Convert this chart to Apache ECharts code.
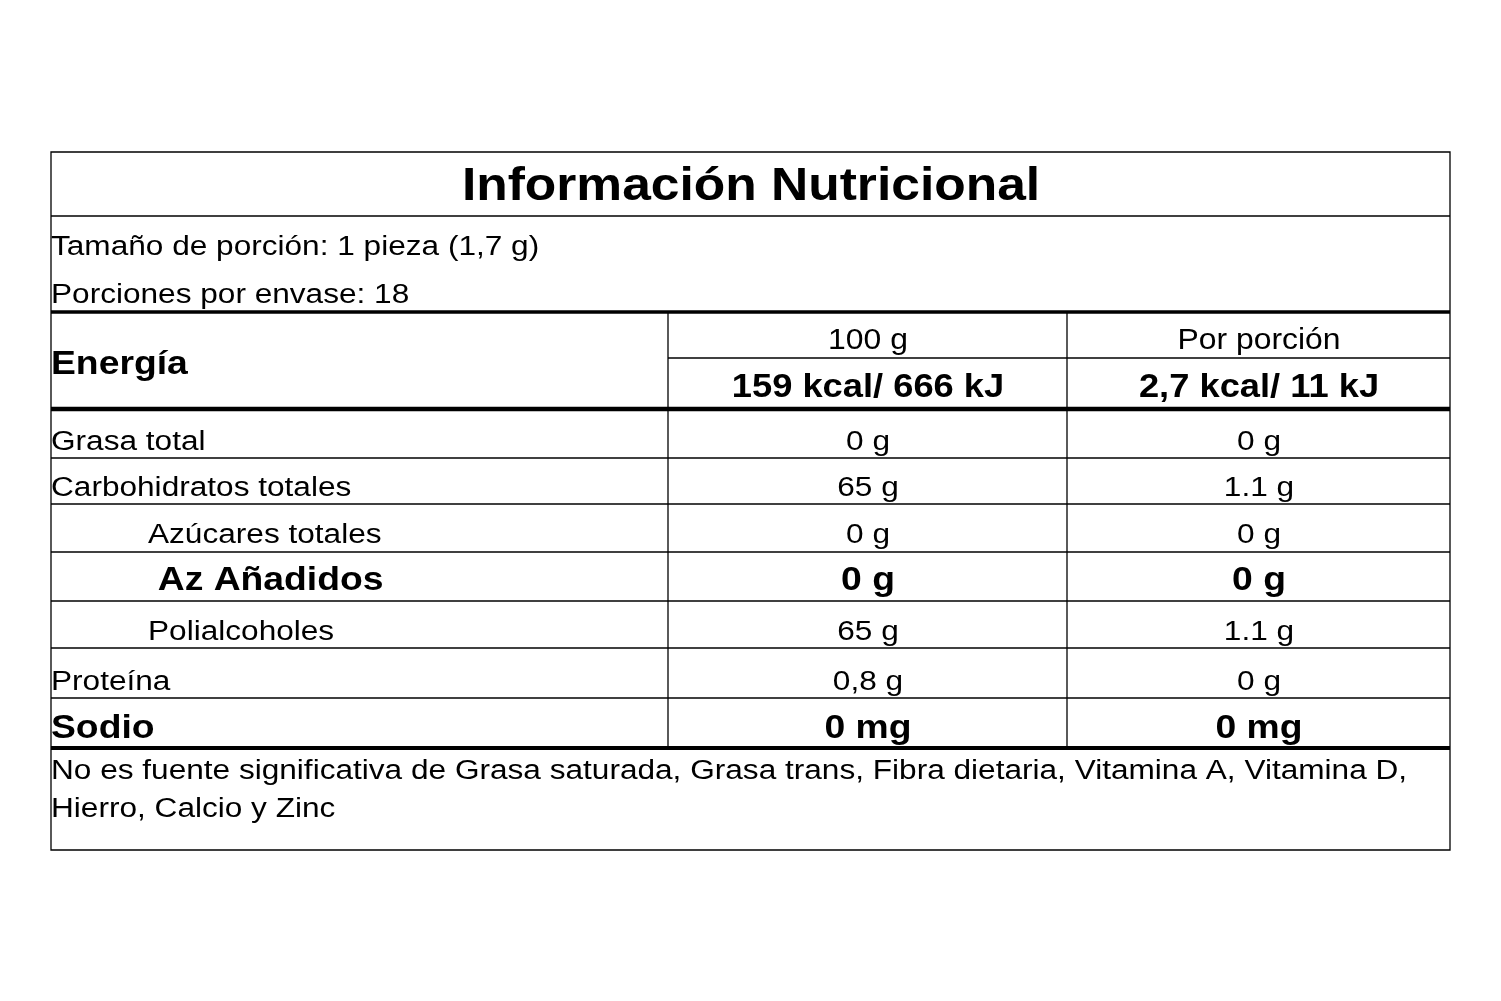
<!DOCTYPE html>
<html><head><meta charset="utf-8">
<script src="https://cdn.jsdelivr.net/npm/echarts@6/dist/echarts.min.js"></script>
<style>html,body{margin:0;padding:0;background:#fff}#c{width:1501px;height:1001px}</style>
</head><body><div id="c"></div>
<script>
const title = "Información Nutricional";
const servingLines = ["Tamaño de porción: 1 pieza (1,7 g)", "Porciones por envase: 18"];
const columnHeaders = ["100 g", "Por porción"];
const energyLabel = "Energía";
const energyValues = ["159 kcal/ 666 kJ", "2,7 kcal/ 11 kJ"];
const nutrientNames = ["Grasa total","Carbohidratos totales","Azúcares totales","Az Añadidos","Polialcoholes","Proteína","Sodio"];
const nutrientIndent = [0,0,1,1.1,1,0,0];
const nutrientBold = [false,false,false,true,false,false,true];
const per100 = ["0 g","65 g","0 g","0 g","65 g","0,8 g","0 mg"];
const perPortion = ["0 g","1.1 g","0 g","0 g","1.1 g","0 g","0 mg"];
const footerLines = ["No es fuente significativa de Grasa saturada, Grasa trans, Fibra dietaria, Vitamina A, Vitamina D,","Hierro, Calcio y Zinc"];

const L=51,R=1450,T=152,B=850,C1=668,C2=1067;
const font='"Liberation Sans", Arial, sans-serif';
const g=[];
function line(x1,y1,x2,y2,w){g.push({type:'line',shape:{x1,y1,x2,y2},style:{stroke:'#000',lineWidth:w||1.3}});}
function text(t,x,y,opts){opts=opts||{};g.push({type:'text',x,y:y+2,scaleX:opts.sx||1.17,style:{text:t,fill:'#000',font:(opts.bold?'bold ':'')+(opts.size||27)+'px '+font,textAlign:opts.align||'left',textVerticalAlign:'middle'}});}

g.push({type:'rect',shape:{x:L,y:T,width:R-L,height:B-T},style:{fill:'none',stroke:'#000',lineWidth:1.3}});
text(title,751,185,{bold:true,size:46,align:'center',sx:1.12});
line(L,216,R,216);
text(servingLines[0],L,246);
text(servingLines[1],L,294);
line(L,312,R,312,3.5);
line(C1,312,C1,748); line(C2,312,C2,748);
text(energyLabel,L,363,{bold:true,size:33,sx:1.13});
text(columnHeaders[0],868,339,{align:'center',size:29,sx:1.1});
text(columnHeaders[1],1259,339,{align:'center',size:29,sx:1.1});
line(C1,358,R,358);
text(energyValues[0],868,386,{align:'center',bold:true,size:33,sx:1.1});
text(energyValues[1],1259,386,{align:'center',bold:true,size:33,sx:1.1});
line(L,409,R,409,4.5);
const rowLines=[458,504,552,601,648,698];
rowLines.forEach(y=>line(L,y,R,y));
const rowY=[441,487,534,579,631,681,727];
nutrientNames.forEach((n,i)=>{
  const b=nutrientBold[i], s=b?33:27, sx=b?1.13:1.17;
  text(n,L+nutrientIndent[i]*97,rowY[i],{bold:b,size:s,sx});
  text(per100[i],868,rowY[i],{bold:b,size:s,align:'center',sx});
  text(perPortion[i],1259,rowY[i],{bold:b,size:s,align:'center',sx});
});
line(L,748,R,748,4);
text(footerLines[0],L,770);
text(footerLines[1],L,808);

const chart=echarts.init(document.getElementById('c'));
chart.setOption({backgroundColor:'#fff',animation:false,graphic:g});
</script></body></html>
